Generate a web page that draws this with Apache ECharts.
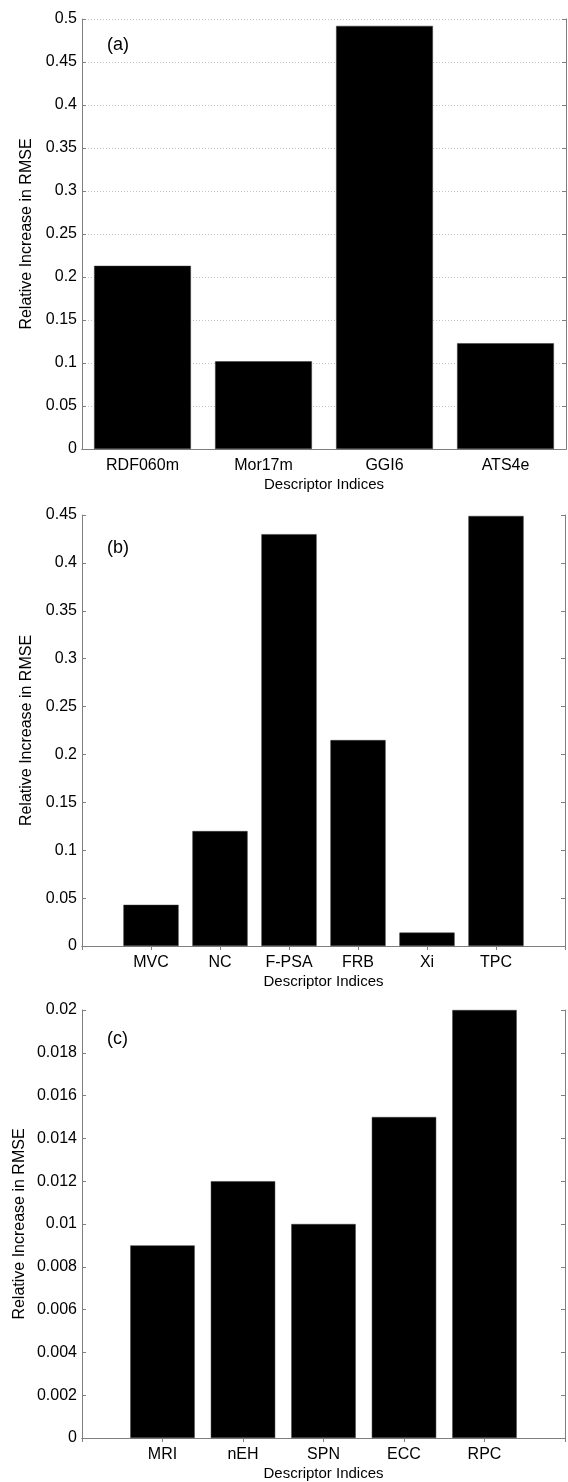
<!DOCTYPE html>
<html>
<head>
<meta charset="utf-8">
<script src="https://cdn.jsdelivr.net/npm/echarts@6/dist/echarts.min.js"></script>
<style>
  html, body { margin: 0; padding: 0; background: #fff; }
  #main { width: 568px; height: 1482px; }
</style>
</head>
<body>
<div id="main"></div>
<script>
// panel (a)
const catsA = ["RDF060m", "Mor17m", "GGI6", "ATS4e"];
const valsA = [0.213, 0.102, 0.492, 0.123];
// panel (b) - empty slots at both ends (x limits 0..7)
const catsB = ["", "MVC", "NC", "F-PSA", "FRB", "Xi", "TPC", ""];
const valsB = ["-", 0.043, 0.120, 0.430, 0.215, 0.014, 0.449, "-"];
// panel (c) - empty slots at both ends (x limits 0..6)
const catsC = ["", "MRI", "nEH", "SPN", "ECC", "RPC", ""];
const valsC = ["-", 0.009, 0.012, 0.010, 0.015, 0.020, "-"];

const yMax = [0.5, 0.45, 0.02];
const yStep = [0.05, 0.05, 0.002];
const panelTags = ["(a)", "(b)", "(c)"];

const FONT = "'Liberation Sans', Arial, sans-serif";
const AXIS_COLOR = "#7f7f7f";
const FS = 16;

const grids = [
  { left: 82, top: 19, width: 484, height: 430 },
  { left: 82, top: 515, width: 484, height: 431 },
  { left: 82, top: 1010, width: 484, height: 430 },
];
// y label sits further out when tick labels are wider (panel c)
const yNameGap = [47, 47, 54];

const cats = [catsA, catsB, catsC];
const vals = [valsA, valsB, valsC];

let xAxes = [];
let yAxes = [];
let series = [];

for (let i = 0; i < 3; i++) {
  const gapOn = i === 0; // panel (a) bars sit in bands, others on ticks
  // bottom axis with labels
  xAxes.push({
    type: "category",
    gridIndex: i,
    data: cats[i],
    boundaryGap: gapOn,
    position: "bottom",
    name: "Descriptor Indices",
    nameLocation: "middle",
    nameGap: 28,
    nameMoveOverlap: false,
    nameTextStyle: { color: "#000", fontSize: 15, fontFamily: FONT },
    axisLine: { lineStyle: { color: AXIS_COLOR, width: 1 } },
    axisTick: { show: false },
    axisLabel: { color: "#000", fontSize: FS, fontFamily: FONT, margin: 9, interval: 0 },
  });
  // top axis - only ticks, closes the box
  xAxes.push({
    type: "category",
    gridIndex: i,
    data: cats[i],
    boundaryGap: gapOn,
    position: "top",
    axisLine: { lineStyle: { color: AXIS_COLOR, width: 1 } },
    axisTick: { inside: true, length: 4, alignWithLabel: true, interval: 0, lineStyle: { color: AXIS_COLOR } },
    axisLabel: { show: false },
  });
  yAxes.push({
    type: "value",
    gridIndex: i,
    min: 0,
    max: yMax[i],
    interval: yStep[i],
    position: "left",
    name: "Relative Increase in RMSE",
    nameLocation: "middle",
    nameGap: yNameGap[i],
    nameMoveOverlap: false,
    nameTextStyle: { color: "#000", fontSize: FS, fontFamily: FONT },
    axisLine: { show: true, lineStyle: { color: AXIS_COLOR, width: 1 } },
    axisTick: { show: true, inside: true, length: 4, lineStyle: { color: AXIS_COLOR } },
    axisLabel: { color: "#000", fontSize: FS, fontFamily: FONT, margin: 5 },
    splitLine: {
      show: i === 0,
      lineStyle: { color: "#c4c4c4", type: [1, 2], width: 1 },
    },
  });
  yAxes.push({
    type: "value",
    gridIndex: i,
    min: 0,
    max: yMax[i],
    interval: yStep[i],
    position: "right",
    axisLine: { show: true, lineStyle: { color: AXIS_COLOR, width: 1 } },
    axisTick: { show: true, inside: true, length: 4, lineStyle: { color: AXIS_COLOR } },
    axisLabel: { show: false },
    splitLine: { show: false },
  });
  series.push({
    type: "bar",
    xAxisIndex: i * 2,
    yAxisIndex: i * 2,
    data: vals[i],
    barWidth: "80%",
    itemStyle: { color: "#000", borderColor: "#3a3a3a", borderWidth: 0.5 },
    silent: true,
    z: 1,
  });
}

const tagTops = [36, 539, 1030];
const titles = panelTags.map((t, i) => ({
  text: t,
  left: 107,
  top: tagTops[i],
  padding: 0,
  textStyle: { color: "#000", fontSize: 18, fontWeight: "normal", fontFamily: FONT },
}));

const myChart = echarts.init(document.getElementById("main"), null, { renderer: "canvas" });
myChart.setOption({
  animation: false,
  backgroundColor: "#fff",
  title: titles,
  grid: grids,
  xAxis: xAxes,
  yAxis: yAxes,
  series: series,
});
</script>
</body>
</html>
